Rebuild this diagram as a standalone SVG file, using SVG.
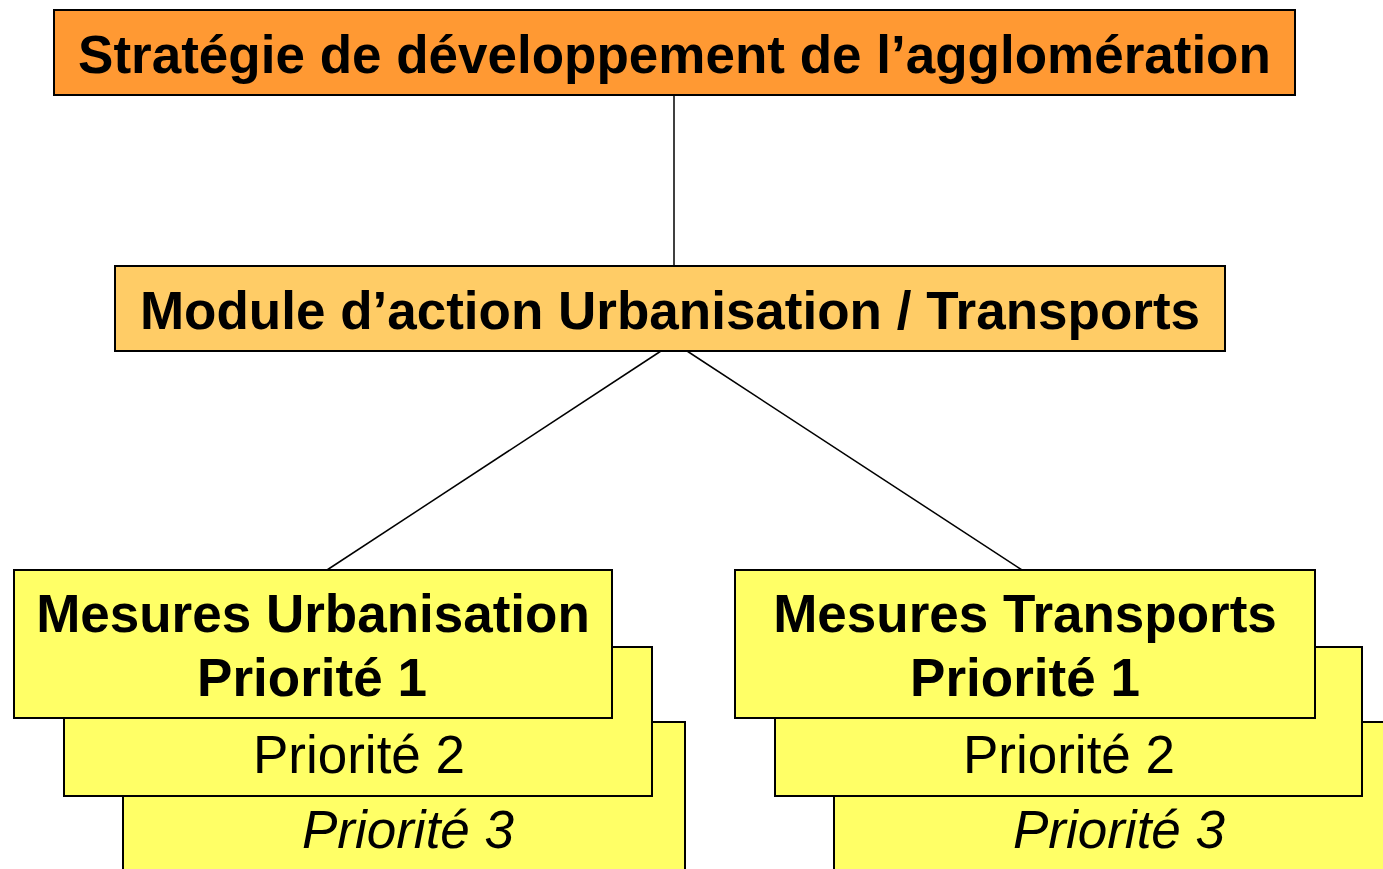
<svg xmlns="http://www.w3.org/2000/svg" width="1383" height="869" viewBox="0 0 1383 869">
<style>
.box{stroke:#000;stroke-width:2}
.l1{fill:#FF9933}
.l2{fill:#FFCC66}
.l3{fill:#FFFF66}
.t{font-family:"Liberation Sans",Arial,sans-serif;font-size:53px;fill:#000;text-anchor:middle}
.b{font-weight:bold}
.i{font-style:italic}
.c{stroke:#000;stroke-width:1.5;fill:none}
</style>
<rect width="1383" height="869" fill="#fff"/>
<g id="connectors">
<line class="c" x1="674" y1="95" x2="674" y2="266"/>
<line class="c" x1="661" y1="351" x2="327" y2="570"/>
<line class="c" x1="687" y1="351" x2="1022" y2="570"/>
</g>
<g id="strategie">
<rect class="box l1" x="54" y="10" width="1241" height="85"/>
<text class="t b" x="674.5" y="73">Stratégie de développement de l’agglomération</text>
</g>
<g id="module">
<rect class="box l2" x="115" y="266" width="1110" height="85"/>
<text class="t b" x="670" y="329">Module d’action Urbanisation / Transports</text>
</g>
<g id="urbanisation-p3">
<rect class="box l3" x="123" y="722" width="562" height="160"/>
<text class="t i" x="408" y="848">Priorité 3</text>
</g>
<g id="urbanisation-p2">
<rect class="box l3" x="64" y="647" width="588" height="149"/>
<text class="t" x="359" y="773">Priorité 2</text>
</g>
<g id="urbanisation-p1">
<rect class="box l3" x="14" y="570" width="598" height="148"/>
<text class="t b" x="313" y="632">Mesures Urbanisation</text>
<text class="t b" x="312" y="696">Priorité 1</text>
</g>
<g id="transports-p3">
<rect class="box l3" x="834" y="722" width="561" height="160"/>
<text class="t i" x="1119" y="848">Priorité 3</text>
</g>
<g id="transports-p2">
<rect class="box l3" x="775" y="647" width="587" height="149"/>
<text class="t" x="1069" y="773">Priorité 2</text>
</g>
<g id="transports-p1">
<rect class="box l3" x="735" y="570" width="580" height="148"/>
<text class="t b" x="1025" y="632">Mesures Transports</text>
<text class="t b" x="1025" y="696">Priorité 1</text>
</g>
</svg>
